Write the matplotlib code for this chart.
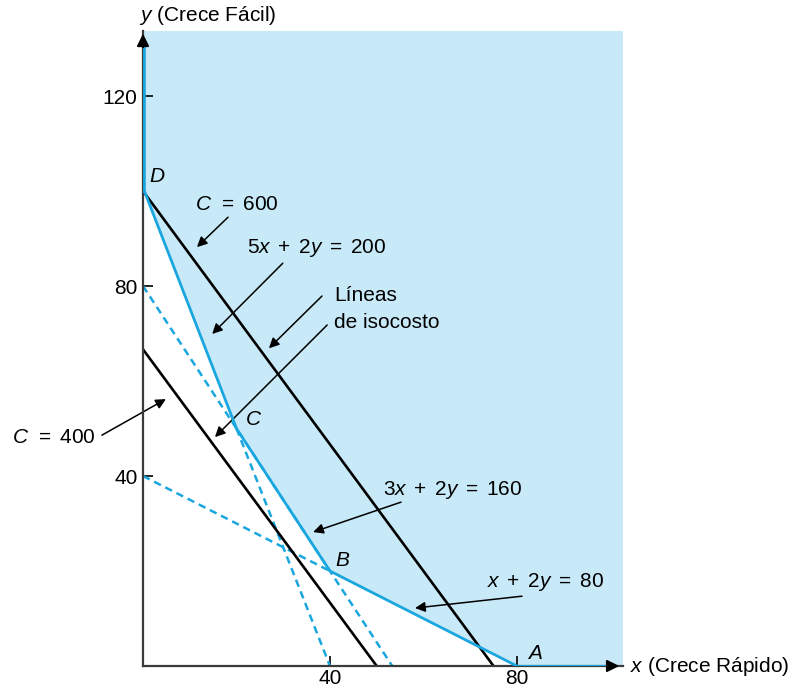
import matplotlib
matplotlib.use('Agg')
import matplotlib.pyplot as plt
import numpy as np

plt.rcParams['font.family'] = ['Liberation Sans', 'DejaVu Sans']
plt.rcParams['mathtext.fontset'] = 'custom'
plt.rcParams['mathtext.rm'] = 'Liberation Sans'
plt.rcParams['mathtext.it'] = 'Liberation Sans:italic'

# corner points of the feasible region
corner_names = ['D', 'C', 'B', 'A']
corner_x = [0, 20, 40, 80]
corner_y = [100, 50, 20, 0]

# constraints a*x + b*y = c, with the x range shown dashed
constr_a = [5, 3, 1]
constr_b = [2, 2, 2]
constr_c = [200, 160, 80]
constr_labels = [r'5$x\,$ + $\,$2$y\,$ = $\,$200',
                 r'3$x\,$ + $\,$2$y\,$ = $\,$160',
                 r'$x\,$ + $\,$2$y\,$ = $\,$80']
dash_from = [20, 0, 0]
dash_to = [40, 160 / 3, 40]

# isocost lines 8x + 6y = C
cost_a, cost_b = 8, 6
cost_values = [600, 400]

x_ticks = [40, 80]
y_ticks = [40, 80, 120]

xmax, ymax = 102.7, 133.7
blue = '#1aa6de'
fill_blue = '#c8e9f8'
fs = 15

fig = plt.figure(figsize=(8, 6.88), dpi=100)
ax = fig.add_axes([143 / 800, 22 / 688, 480 / 800, 635 / 688])
ax.set_xlim(0, xmax)
ax.set_ylim(0, ymax)

# shaded feasible region
poly_x = [0] + corner_x + [xmax, xmax]
poly_y = [ymax] + corner_y + [0, ymax]
ax.fill(poly_x, poly_y, color=fill_blue, lw=0, zorder=0)

# dashed extensions of constraints
for a, b, c, x0, x1 in zip(constr_a, constr_b, constr_c, dash_from, dash_to):
    xs = np.array([x0, x1])
    ax.plot(xs, (c - a * xs) / b, color=blue, lw=1.8, dashes=(3, 2), zorder=2)

# isocost lines
for cv in cost_values:
    xs = np.array([0, cv / cost_a])
    ax.plot(xs, (cv - cost_a * xs) / cost_b, color='black', lw=1.9, zorder=3)

# feasible boundary
ax.plot([0.3, 0.3] + corner_x[1:], [130.3, 100] + corner_y[1:], color=blue, lw=2, zorder=4)
ax.plot([0.3, 0], [100, 100], color=blue, lw=2, zorder=4)
ax.plot([80, 99.5], [0, 0], color=blue, lw=2.2, zorder=5)

# axes
for s in ['top', 'right']:
    ax.spines[s].set_visible(False)
for s in ['left', 'bottom']:
    ax.spines[s].set_color('#3a3a3a')
    ax.spines[s].set_linewidth(1.6)
    ax.spines[s].set_zorder(3.5)
ax.annotate('', xy=(0, ymax), xytext=(0, ymax - 4),
            arrowprops=dict(arrowstyle='-|>', color='black', lw=1.5, mutation_scale=18),
            annotation_clip=False, zorder=6)
ax.annotate('', xy=(xmax - 0.2, 0), xytext=(xmax - 4, 0),
            arrowprops=dict(arrowstyle='-|>', color='black', lw=1.5, mutation_scale=18),
            annotation_clip=False, zorder=6)

ax.set_xticks(x_ticks)
ax.set_yticks(y_ticks)
ax.tick_params(direction='in', length=7, width=1.2, color='black', labelsize=fs, pad=4)
ax.tick_params(axis='x', pad=2)

ax.text(104.2, -0.2, '$x$ (Crece Rápido)', fontsize=fs, va='center', ha='left',
        clip_on=False)
ax.text(-0.85, 137.0, '$y$ (Crece Fácil)', fontsize=fs, va='center', ha='left',
        clip_on=False)

# corner labels
label_pos = [(3.0, 103.0), (23.7, 52.0), (42.8, 22.3), (83.9, 2.7)]
for name, (lx, ly) in zip(corner_names, label_pos):
    ax.text(lx, ly, '$' + name + '$', fontsize=fs, ha='center', va='center')

arrow = dict(arrowstyle='-|>', color='black', lw=1.1, mutation_scale=15, shrinkA=0, shrinkB=0)

def note(text, tx, ty, tail, head):
    ax.text(tx, ty, text, fontsize=fs, ha='left', va='center', clip_on=False)
    ax.annotate('', xy=head, xytext=tail, arrowprops=arrow, annotation_clip=False)

note(r'$C$  = $\,$600', 11.1, 97.1, (18.2, 94.5), (11.55, 88.2))
note(r'$C$  = $\,$400', -28.0, 48.2, (-8.8, 48.6), (4.9, 56.2))
note(constr_labels[0], 22.2, 88.0, (29.9, 84.8), (14.8, 69.9))
note(constr_labels[1], 51.3, 37.05, (55.2, 34.5), (36.4, 28.2))
note(constr_labels[2], 73.6, 17.7, (81.1, 14.7), (58.2, 12.2))

ax.text(40.9, 78.1, 'Líneas', fontsize=fs, ha='left', va='center')
ax.text(40.9, 72.4, 'de isocosto', fontsize=fs, ha='left', va='center')
ax.annotate('', xy=(26.95, 66.9), xytext=(38.3, 77.9), arrowprops=arrow)
ax.annotate('', xy=(15.4, 48.2), xytext=(39.4, 71.8), arrowprops=arrow)

fig.savefig('out.png', dpi=100)
